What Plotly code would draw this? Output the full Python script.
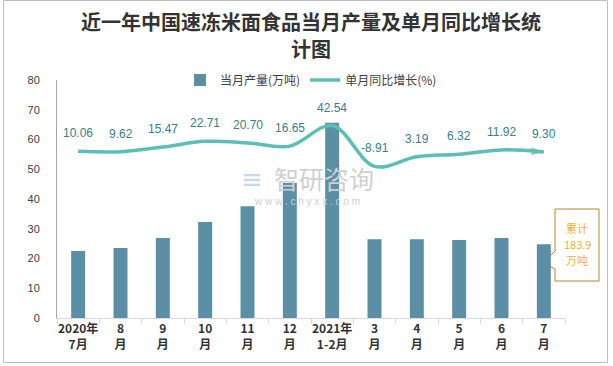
import plotly.graph_objects as go

categories = ["2020年<br>7月", "8<br>月", "9<br>月", "10<br>月", "11<br>月", "12<br>月",
              "2021年<br>1-2月", "3<br>月", "4<br>月", "5<br>月", "6<br>月", "7<br>月"]
output_values = [22.5, 23.5, 26.9, 32.3, 37.6, 45.4, 65.6, 26.5, 26.5, 26.2, 26.9, 24.8]
yoy_growth = [10.06, 9.62, 15.47, 22.71, 20.70, 16.65, 42.54, -8.91, 3.19, 6.32, 11.92, 9.30]
yoy_labels = ["10.06", "9.62", "15.47", "22.71", "20.70", "16.65", "42.54", "-8.91", "3.19", "6.32", "11.92", "9.30"]
y_ticks = [0, 10, 20, 30, 40, 50, 60, 70, 80]
callout_lines = ["累计", "183.9", "万吨"]
title_lines = ["近一年中国速冻米面食品当月产量及单月同比增长统", "计图"]

BAR = "#5B8FA6"
LINE = "#5CBFB6"
LABEL = "#35808A"

W, H = 613, 366
ML, MR, MT, MB = 57, 48, 80, 48
PW, PH = W - ML - MR, H - MT - MB


def px(x):
    return (x - ML) / PW


def py(y):
    return (H - MB - y) / PH


fig = go.Figure()
fig.add_trace(go.Bar(x=categories, y=output_values, name="当月产量(万吨)",
                     marker=dict(color=BAR, line=dict(width=0)), yaxis="y"))

n = len(yoy_growth)
symbols = ["circle"] + ["circle"] * (n - 2) + ["arrow"]
sizes = [11] + [0] * (n - 2) + [13]
colors = ["#F5B120"] + [LINE] * (n - 1)
fig.add_trace(go.Scatter(x=categories, y=yoy_growth, mode="lines+markers", yaxis="y2",
                         line=dict(color=LINE, width=3.5, shape="spline", smoothing=1.0),
                         marker=dict(symbol=symbols, size=sizes, color=colors,
                                     angleref="previous", line=dict(width=0)),
                         showlegend=False))
fig.add_trace(go.Scatter(x=[None], y=[None], mode="lines", yaxis="y2",
                         name="单月同比增长(%)", line=dict(color=LINE, width=3.5)))

annotations = []
for c, v, t in zip(categories, yoy_growth, yoy_labels):
    annotations.append(dict(x=c, y=v, xref="x", yref="y2", text=t, showarrow=False,
                            yshift=18, font=dict(family="Liberation Sans", size=12, color=LABEL)))

# title (two lines)
for i, t in enumerate(title_lines):
    annotations.append(dict(x=0.5, y=py(22 + 26 * i), xref="paper", yref="paper",
                            xanchor="center", yanchor="middle", text=f"<b>{t}</b>", showarrow=False,
                            font=dict(family="Noto Sans CJK SC", size=20, color="#333333")))

# callout
for i, t in enumerate(callout_lines):
    annotations.append(dict(x=px(577), y=py(228 + 16 * i), xref="paper", yref="paper",
                            xanchor="center", yanchor="middle", text=t, showarrow=False,
                            font=dict(family="Noto Sans CJK SC", size=11, color="#F2B134")))
# watermark
annotations.append(dict(x=px(324), y=py(178), xref="paper", yref="paper", text="智研咨询",
                        xanchor="center", yanchor="middle",
                        showarrow=False, font=dict(family="Noto Sans CJK SC", size=25, color="#D0D0D0")))
annotations.append(dict(x=px(307), y=py(201), xref="paper", yref="paper",
                        xanchor="center", yanchor="middle",
                        text="w w w . c h y x x . c o m", showarrow=False,
                        font=dict(family="Liberation Sans", size=10, color="#D0D0D0")))
annotations.append(dict(x=px(252), y=py(179), xref="paper", yref="paper", text="≡",
                        xanchor="center", yanchor="middle",
                        showarrow=False, font=dict(family="DejaVu Sans", size=26, color="#C9D9EA")))

shapes = [
    dict(type="rect", xref="paper", yref="paper", x0=px(3.5), x1=px(607.5), y0=py(362.5), y1=py(0.5),
         line=dict(color="#BFBFBF", width=1), fillcolor="rgba(0,0,0,0)", layer="below"),
    dict(type="path", xref="paper", yref="paper",
         path=(f"M {px(555)} {py(209)} L {px(599)} {py(209)} L {px(599)} {py(281)} "
               f"L {px(555)} {py(281)} L {px(555)} {py(269)} L {px(543)} {py(263)} "
               f"L {px(555)} {py(251)} Z"),
         line=dict(color="#B8862B", width=1), fillcolor="white", layer="below"),
]

fig.update_layout(
    width=W, height=H,
    margin=dict(l=ML, r=MR, t=MT, b=MB, pad=0, autoexpand=False),
    paper_bgcolor="white", plot_bgcolor="rgba(0,0,0,0)",
    bargap=0.67,
    showlegend=True,
    legend=dict(orientation="h", x=0.5, xanchor="center", y=1.0, yanchor="middle",
                font=dict(family="Noto Sans CJK SC", size=12, color="#404040"),
                bgcolor="rgba(0,0,0,0)", itemwidth=30, traceorder="normal"),
    xaxis=dict(type="category", range=[-0.5, len(categories) - 0.5], autorange=False,
               showline=True, linecolor="#D9D9D9", linewidth=1,
               ticks="outside", tickson="boundaries", ticklen=5, tickcolor="#D9D9D9",
               showgrid=False, zeroline=False, tickangle=0, automargin=False,
               tickfont=dict(family="Noto Sans CJK SC", size=12, color="#333333", weight="bold")),
    yaxis=dict(range=[0, 80], tickvals=y_ticks, showline=True, linecolor="#A6A6A6", linewidth=1,
               showgrid=False, zeroline=False, ticks="", ticklabelstandoff=14, automargin=False,
               tickfont=dict(family="Liberation Sans", size=11, color="#404040")),
    yaxis2=dict(range=[-200, 100], overlaying="y", side="right", visible=False, automargin=False),
    annotations=annotations,
    shapes=shapes,
)

fig.write_html("out.html", config={"displayModeBar": False},
               post_script="document.body.style.margin='0';")
